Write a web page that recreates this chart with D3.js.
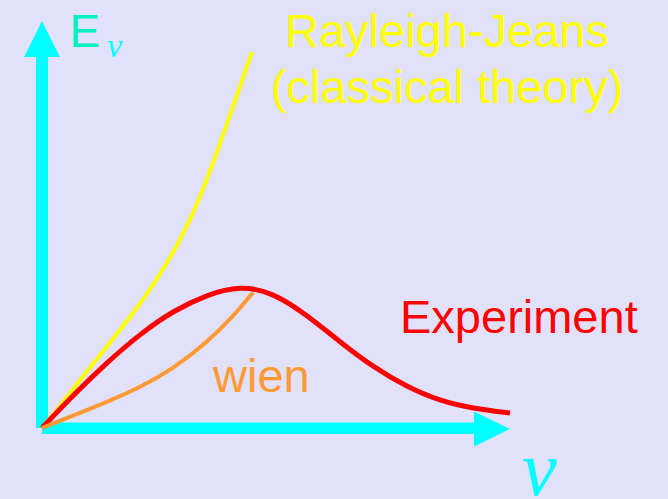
<!DOCTYPE html>
<html>
<head>
<meta charset="utf-8">
<script src="https://cdn.jsdelivr.net/npm/d3@7"></script>
<style>
  html, body { margin: 0; padding: 0; background: #e1e1fc; }
  svg { display: block; }
</style>
</head>
<body>
<svg id="chart" width="668" height="499"></svg>
<script>
// ---- data (arbitrary units: frequency nu 0..100, energy density E 0..100) ----
const rayleighJeans = [
  [0, 0], [3.14, 4.5], [8.12, 12], [13.82, 20.33], [19.51, 28.68], [24.51, 37],
  [28.78, 45.33], [32.35, 53.68], [35.19, 62], [37.39, 69], [40.81, 80.25], [44.87, 94]
];
const experiment = [
  [0, 0], [6.62, 8.15], [13.89, 16.4], [20.94, 23.5], [27.99, 29.28], [35.26, 33.35],
  [42.31, 35.6], [49.36, 33.88], [56.62, 28.25], [63.68, 21.5], [70.73, 15.25],
  [77.99, 10.25], [85.04, 6.75], [92.09, 4.88], [100, 3.75]
];
const wien = [
  [0, 0], [6.62, 3.1], [13.89, 6.5], [20.94, 10.13], [27.99, 14.75], [35.26, 21.38],
  [40.81, 27.88], [45.09, 33.88]
];
const labelRJ = ["Rayleigh-Jeans", "(classical theory)"];
const labelExp = "Experiment";
const labelWien = "wien";
const axisY = ["E", "\u03BD"];
const axisX = "\u03BD";

// ---- drawing ----
const svg = d3.select("#chart");
svg.append("rect").attr("width", 668).attr("height", 499).attr("fill", "#e1e1fc");

const x = d3.scaleLinear().domain([0, 100]).range([42, 510]);
const y = d3.scaleLinear().domain([0, 100]).range([428, 28]);

const cyan = "#00ffff";
const x0 = x(0), y0 = y(0);

// vertical axis arrow
svg.append("rect").attr("x", x0 - 6).attr("y", 56).attr("width", 12).attr("height", y0 - 56).attr("fill", cyan);
svg.append("path").attr("d", `M${x0},21 L${x0 + 18},57 L${x0 - 18},57 Z`).attr("fill", cyan);
// horizontal axis arrow
svg.append("rect").attr("x", x0).attr("y", y0 - 5.5).attr("width", 475 - x0).attr("height", 11.5).attr("fill", cyan);
svg.append("path").attr("d", `M474,${y0 - 16.5} L510,${y0 + 1} L474,${y0 + 18.5} Z`).attr("fill", cyan);

const line = d3.line().x(d => x(d[0])).y(d => y(d[1])).curve(d3.curveBasis);

svg.append("path").datum(rayleighJeans).attr("d", line)
  .attr("fill", "none").attr("stroke", "#ffff00").attr("stroke-width", 4);
svg.append("path").datum(experiment).attr("d", line)
  .attr("fill", "none").attr("stroke", "#ff0000").attr("stroke-width", 5);
svg.append("path").datum(wien).attr("d", line)
  .attr("fill", "none").attr("stroke", "#ff9933").attr("stroke-width", 4);

const sans = "'Liberation Sans', Arial, Helvetica, sans-serif";
const serif = "'Liberation Serif', 'Times New Roman', serif";

svg.append("text").attr("x", 69.5).attr("y", 47).attr("font-family", sans).attr("font-size", 46)
  .attr("fill", "#00f0c0").text(axisY[0]);
svg.append("text").attr("x", 107).attr("y", 57).attr("font-family", serif).attr("font-style", "italic")
  .attr("font-size", 34).attr("fill", cyan).text(axisY[1]);
svg.append("text").attr("x", 522).attr("y", 495).attr("font-family", serif).attr("font-style", "italic")
  .attr("font-size", 78).attr("fill", cyan).text(axisX);

svg.selectAll("text.rj").data(labelRJ).join("text").attr("class", "rj")
  .attr("x", 447).attr("y", (d, i) => 47 + i * 56).attr("text-anchor", "middle")
  .attr("font-family", sans).attr("font-size", 47).attr("fill", "#ffff00").text(d => d);

svg.append("text").attr("x", 400).attr("y", 333).attr("font-family", sans).attr("font-size", 47)
  .attr("fill", "#ff0000").text(labelExp);
svg.append("text").attr("x", 213).attr("y", 392).attr("font-family", sans).attr("font-size", 47)
  .attr("fill", "#ff9933").text(labelWien);
</script>
</body>
</html>
